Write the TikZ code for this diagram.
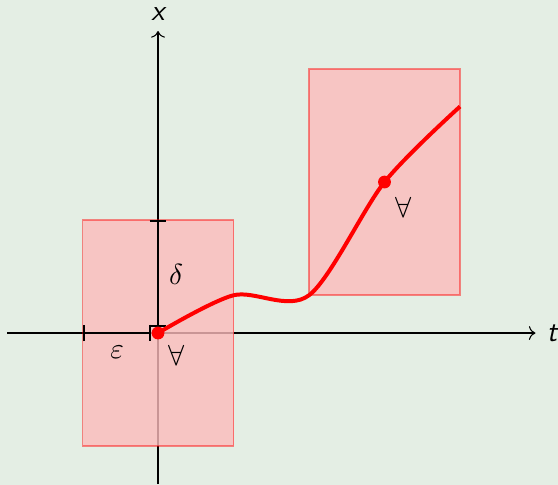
\documentclass[tikz,border=0pt]{standalone}
\usetikzlibrary{arrows.meta}
\definecolor{bgc}{RGB}{228,238,228}
\definecolor{boxfill}{RGB}{252,187,187}
\begin{document}
\begin{tikzpicture}[x=1cm,y=1cm,
  axis/.style={line width=0.4pt,->},
  nbhd/.style={fill=boxfill,fill opacity=0.8,draw=red,draw opacity=0.45,line width=0.6pt},
  barline/.style={line width=0.8pt,{Bar[width=0.22cm]}-{Bar[width=0.22cm]}},
  curve/.style={red,line width=1.5pt},
  dot/.style={circle,fill=red,inner sep=0pt,minimum size=0.17cm},
  lbl/.style={font=\fontsize{11}{13}\selectfont,inner sep=1pt}]
\fill[bgc] (-2.093,-2.013) rectangle (5.298,4.411);
\useasboundingbox (-2.093,-2.013) rectangle (5.298,4.411);
% coordinates
\coordinate (xl) at (-2,0);
\coordinate (xr) at (5,0);
\coordinate (yb) at (0,-2);
\coordinate (yt) at (0,4);
\coordinate (p0) at (0,0);
\coordinate (p1) at (1,0.5);
\coordinate (p2) at (2,0.5);
\coordinate (p3) at (3,2);
\coordinate (p4) at (4,3);
\coordinate (e1) at (-1,0);
\coordinate (e2) at (-0.093,0);
\coordinate (d1) at (0,1.5);
\coordinate (d2) at (0,0.08);
% axes
\draw[axis] (xl) -- (xr);
\draw[axis] (yb) -- (yt);
\node[lbl] (tlab) at (5.22,0) {\sffamily\itshape t};
\node[lbl] (xlab) at (0,4.22) {\sffamily\itshape x};
% neighbourhoods
\draw[nbhd] (-1,-1.5) rectangle (1,1.5);
\draw[nbhd] (2,0.5) rectangle (4,3.5);
% bars
\draw[barline] (e1) -- (e2);
\draw[barline] (d1) -- (d2);
\node[lbl] (eps) at (-0.54,-0.25) {$\varepsilon$};
\node[lbl] (del) at (0.24,0.77) {$\delta$};
% curve
\draw[curve] plot[smooth] coordinates {(p0) (p1) (p2) (p3) (p4)};
\node[dot] (q0) at (p0) {};
\node[dot] (q3) at (p3) {};
\node[lbl] (fa0) at (0.25,-0.30) {$\forall$};
\node[lbl] (fa3) at (3.25,1.67) {$\forall$};
\end{tikzpicture}
\end{document}
